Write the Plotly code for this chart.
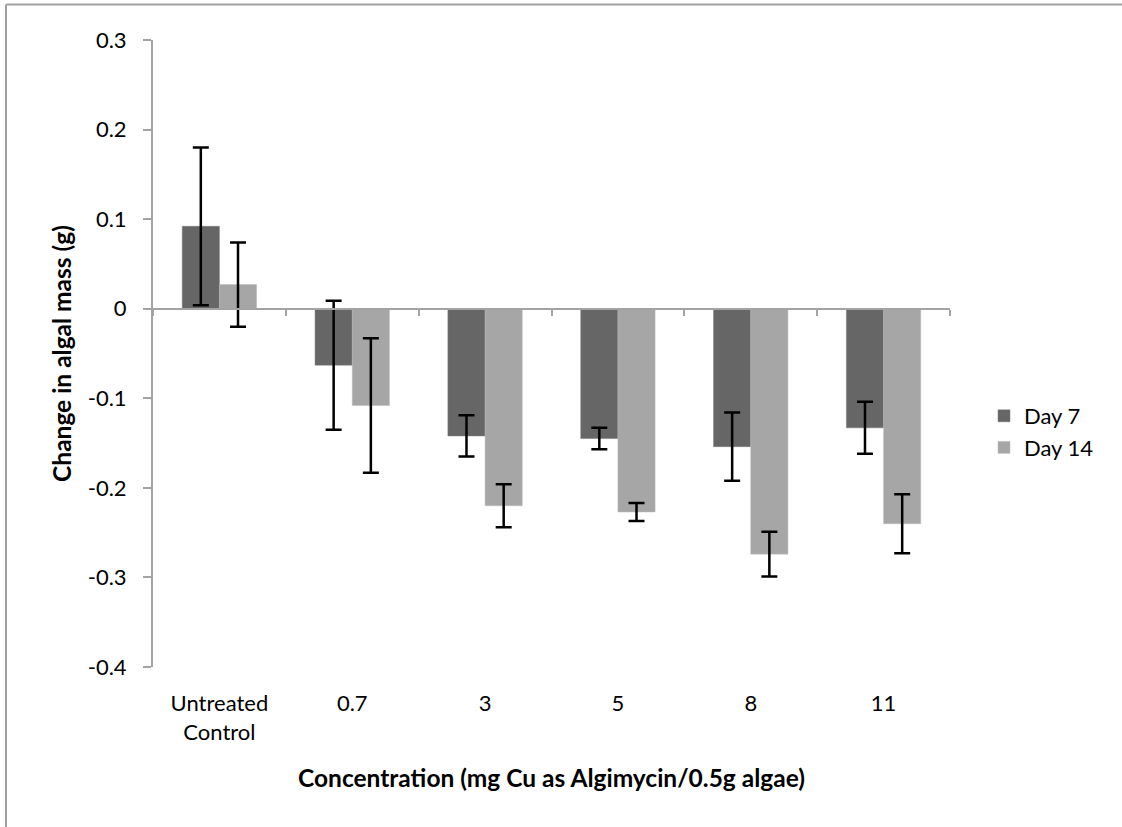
import plotly.graph_objects as go

# Concentration groups and measured change in algal mass (g)
categories = ["Untreated<br>Control", "0.7", "3", "5", "8", "11"]
day7 = [0.092, -0.063, -0.142, -0.145, -0.154, -0.133]
day7_err = [0.088, 0.072, 0.023, 0.012, 0.038, 0.029]
day14 = [0.027, -0.108, -0.220, -0.227, -0.274, -0.240]
day14_err = [0.047, 0.075, 0.024, 0.010, 0.025, 0.033]
y_ticks = [0.3, 0.2, 0.1, 0, -0.1, -0.2, -0.3, -0.4]
y_tick_text = ["0.3", "0.2", "0.1", "0", "-0.1", "-0.2", "-0.3", "-0.4"]

W, H = 1122, 827
ML, MR, MT, MB = 153, 172, 40, 160
PW, PH = W - ML - MR, H - MT - MB
Y_MIN, Y_MAX = -0.4, 0.3

FONT = "Lato, Carlito, Calibri, sans-serif"
AXIS_GREY = "#a3a3a3"
TICK_SIZE = 22
TITLE_SIZE = 24.5

fig = go.Figure()
fig.add_trace(go.Bar(
    name="Day 7", x=categories, y=day7, legendgroup="d7",
    marker=dict(color="#666666", line=dict(color="#7a7a7a", width=0.5)),
    error_y=dict(type="data", array=day7_err, color="black", thickness=2.5, width=8),
))
fig.add_trace(go.Bar(
    name="Day 14", x=categories, y=day14, legendgroup="d14",
    marker=dict(color="#a6a6a6", line=dict(color="#bdbdbd", width=0.5)),
    error_y=dict(type="data", array=day14_err, color="black", thickness=2.5, width=8),
))
# carrier for the category axis drawn along y = 0
fig.add_trace(go.Scatter(x=categories, y=[None] * len(categories), xaxis="x2",
                         showlegend=False, hoverinfo="skip"))

zero_pos = (0 - Y_MIN) / (Y_MAX - Y_MIN)

fig.update_layout(
    width=W, height=H,
    margin=dict(l=ML, r=MR, t=MT, b=MB, pad=0),
    paper_bgcolor="white", plot_bgcolor="white",
    font=dict(family=FONT, size=TICK_SIZE, color="black"),
    barmode="group", bargap=0.44, bargroupgap=0,
    showlegend=True,
    legend=dict(
        x=(984 - ML) / PW, xanchor="left",
        y=(H - MB - 432) / PH, yanchor="middle",
        traceorder="grouped", tracegroupgap=0,
        font=dict(family=FONT, size=TICK_SIZE, color="black"),
        bgcolor="rgba(0,0,0,0)",
    ),
    xaxis=dict(
        type="category", showline=False, ticks="", showgrid=False, zeroline=False,
        tickfont=dict(family=FONT, size=TICK_SIZE), ticklabelstandoff=21,
        title=dict(text="<b>Concentration (mg Cu as Algimycin/0.5g algae)</b>",
                   font=dict(family=FONT, size=TITLE_SIZE), standoff=26),
    ),
    xaxis2=dict(
        type="category", overlaying="x", matches="x", anchor="free",
        position=zero_pos, side="bottom",
        showline=True, linecolor=AXIS_GREY, linewidth=2,
        ticks="outside", tickson="boundaries", ticklen=6, tickwidth=2, tickcolor=AXIS_GREY,
        showticklabels=False, showgrid=False, zeroline=False,
    ),
    yaxis=dict(
        range=[Y_MIN, Y_MAX], tickvals=y_ticks, ticktext=y_tick_text,
        showline=True, linecolor=AXIS_GREY, linewidth=2,
        ticks="outside", ticklen=8, tickwidth=2, tickcolor=AXIS_GREY,
        ticklabelstandoff=12,
        showgrid=False, zeroline=False,
        tickfont=dict(family=FONT, size=TICK_SIZE),
        title=dict(text="<b>Change in algal mass (g)</b>",
                   font=dict(family=FONT, size=TITLE_SIZE), standoff=9),
    ),
)

# outer chart-area frame (top and left edges fall inside the page)
fx0 = (6 - ML) / PW
fy1 = (H - MB - 4.5) / PH
fig.add_shape(type="line", xref="paper", yref="paper", x0=fx0, x1=(W + 10 - ML) / PW,
              y0=fy1, y1=fy1, line=dict(color="#a0a0a0", width=2))
fig.add_shape(type="line", xref="paper", yref="paper", x0=fx0, x1=fx0,
              y0=fy1, y1=(H - MB - H - 10) / PH, line=dict(color="#a0a0a0", width=2))

fig.write_html("out.html")
